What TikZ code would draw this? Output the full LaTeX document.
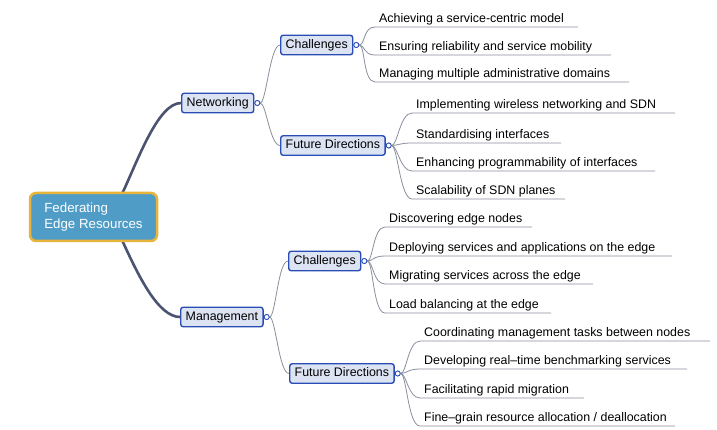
\documentclass[tikz,border=0pt]{standalone}
\usepackage{fontspec}
\setmainfont{Liberation Sans}
\definecolor{rootfill}{HTML}{4F9CC6}
\definecolor{rootdraw}{HTML}{E9B43A}
\definecolor{rootline}{HTML}{4A5470}
\definecolor{boxfill}{HTML}{DCE4F4}
\definecolor{boxdraw}{HTML}{2A4DB5}
\definecolor{thinline}{HTML}{8A8F9C}
\tikzset{
  rootbox/.style={draw=rootdraw, fill=rootfill, line width=2.5pt, rounded corners=6pt,
    minimum width=127pt, minimum height=48pt, align=left, text=white,
    font=\fontsize{13.3}{15.7}\selectfont},
  catbox/.style={draw=boxdraw, fill=boxfill, line width=1.4pt, rounded corners=2.5pt,
    minimum height=19.5pt, inner xsep=5pt, inner ysep=0pt, text height=9pt, text depth=2.6pt,
    font=\fontsize{12.4}{14}\selectfont},
  dot/.style={circle, draw=boxdraw, fill=white, line width=0.8pt, minimum size=5pt, inner sep=0pt},
  rootconn/.style={draw=rootline, line width=2.6pt, line cap=round},
  thin/.style={draw=thinline, line width=0.8pt},
  leaftext/.style={anchor=base west, inner sep=0pt, font=\fontsize{12.4}{14}\selectfont},
}
% \leafitem{dot}{name}{y}{start x}{end x}{text}
\newcommand\leafitem[6]{%
  \coordinate (#2s) at (#4,#3);
  \coordinate (#2e) at (#5,#3);
  \node[leaftext] (#2t) at (#4+4,#3-4.5) {#6};
  \draw[thin] (#1.east) .. controls ([xshift=6pt]#1.east) and ([xshift=-12pt]#2s) .. (#2s) -- (#2e);
}
\begin{document}
\begin{tikzpicture}[x=1pt,y=-1pt]
\useasboundingbox (0,0) rectangle (717,430);
\fill[white] (0,0) rectangle (717,430);

% root connectors (behind boxes)
\coordinate (rtop) at (122,194);
\coordinate (rbot) at (122,240);
\node[catbox, anchor=west] (net) at (181,103) {Networking};
\node[catbox, anchor=west] (mgmt) at (180,317) {Management};
\draw[rootconn] (rtop) .. controls (138,160) and (158,103) .. (net.west);
\draw[rootconn] (rbot) .. controls (138,275) and (158,317) .. (mgmt.west);
\node[rootbox] (root) at (93.5,217) {Federating\\Edge Resources};

\node[catbox, anchor=west] (netc) at (280,45) {Challenges};
\node[catbox, anchor=west] (netf) at (280,145.5) {Future Directions};
\node[catbox, anchor=west] (mgc) at (288,261) {Challenges};
\node[catbox, anchor=west] (mgf) at (289,373.5) {Future Directions};

\node[dot, anchor=west] (netd) at (net.east) {};
\node[dot, anchor=west] (mgmtd) at (mgmt.east) {};
\node[dot, anchor=west] (netcd) at (netc.east) {};
\node[dot, anchor=west] (netfd) at (netf.east) {};
\node[dot, anchor=west] (mgcd) at (mgc.east) {};
\node[dot, anchor=west] (mgfd) at (mgf.east) {};

\begin{scope}[on background layer/.style={}]
\draw[thin] (netd.east) .. controls ([xshift=6pt]netd.east) and ([xshift=-10pt]netc.west) .. (netc.west);
\draw[thin] (netd.east) .. controls ([xshift=6pt]netd.east) and ([xshift=-10pt]netf.west) .. (netf.west);
\draw[thin] (mgmtd.east) .. controls ([xshift=6pt]mgmtd.east) and ([xshift=-10pt]mgc.west) .. (mgc.west);
\draw[thin] (mgmtd.east) .. controls ([xshift=6pt]mgmtd.east) and ([xshift=-10pt]mgf.west) .. (mgf.west);
\end{scope}

\leafitem{netcd}{a1}{27}{375}{578}{Achieving a service-centric model}
\leafitem{netcd}{a2}{55}{375}{611}{Ensuring reliability and service mobility}
\leafitem{netcd}{a3}{82}{375}{629}{Managing multiple administrative domains}

\leafitem{netfd}{b1}{113}{412}{675}{Implementing wireless networking and SDN}
\leafitem{netfd}{b2}{143}{412}{561}{Standardising interfaces}
\leafitem{netfd}{b3}{171}{412}{655}{Enhancing programmability of interfaces}
\leafitem{netfd}{b4}{199}{412}{565}{Scalability of SDN planes}

\leafitem{mgcd}{c1}{227}{385}{532}{Discovering edge nodes}
\leafitem{mgcd}{c2}{256}{385}{672}{Deploying services and applications on the edge}
\leafitem{mgcd}{c3}{284}{385}{593}{Migrating services across the edge}
\leafitem{mgcd}{c4}{313}{385}{551}{Load balancing at the edge}

\leafitem{mgfd}{d1}{341}{420}{710}{Coordinating management tasks between nodes}
\leafitem{mgfd}{d2}{369}{420}{687}{Developing real–time benchmarking services}
\leafitem{mgfd}{d3}{398}{420}{584}{Facilitating rapid migration}
\leafitem{mgfd}{d4}{426}{420}{675}{Fine–grain resource allocation / deallocation}

% redraw dots on top
\foreach \d in {netd,mgmtd,netcd,netfd,mgcd,mgfd}{\node[dot] at (\d) {};}
\end{tikzpicture}
\end{document}
